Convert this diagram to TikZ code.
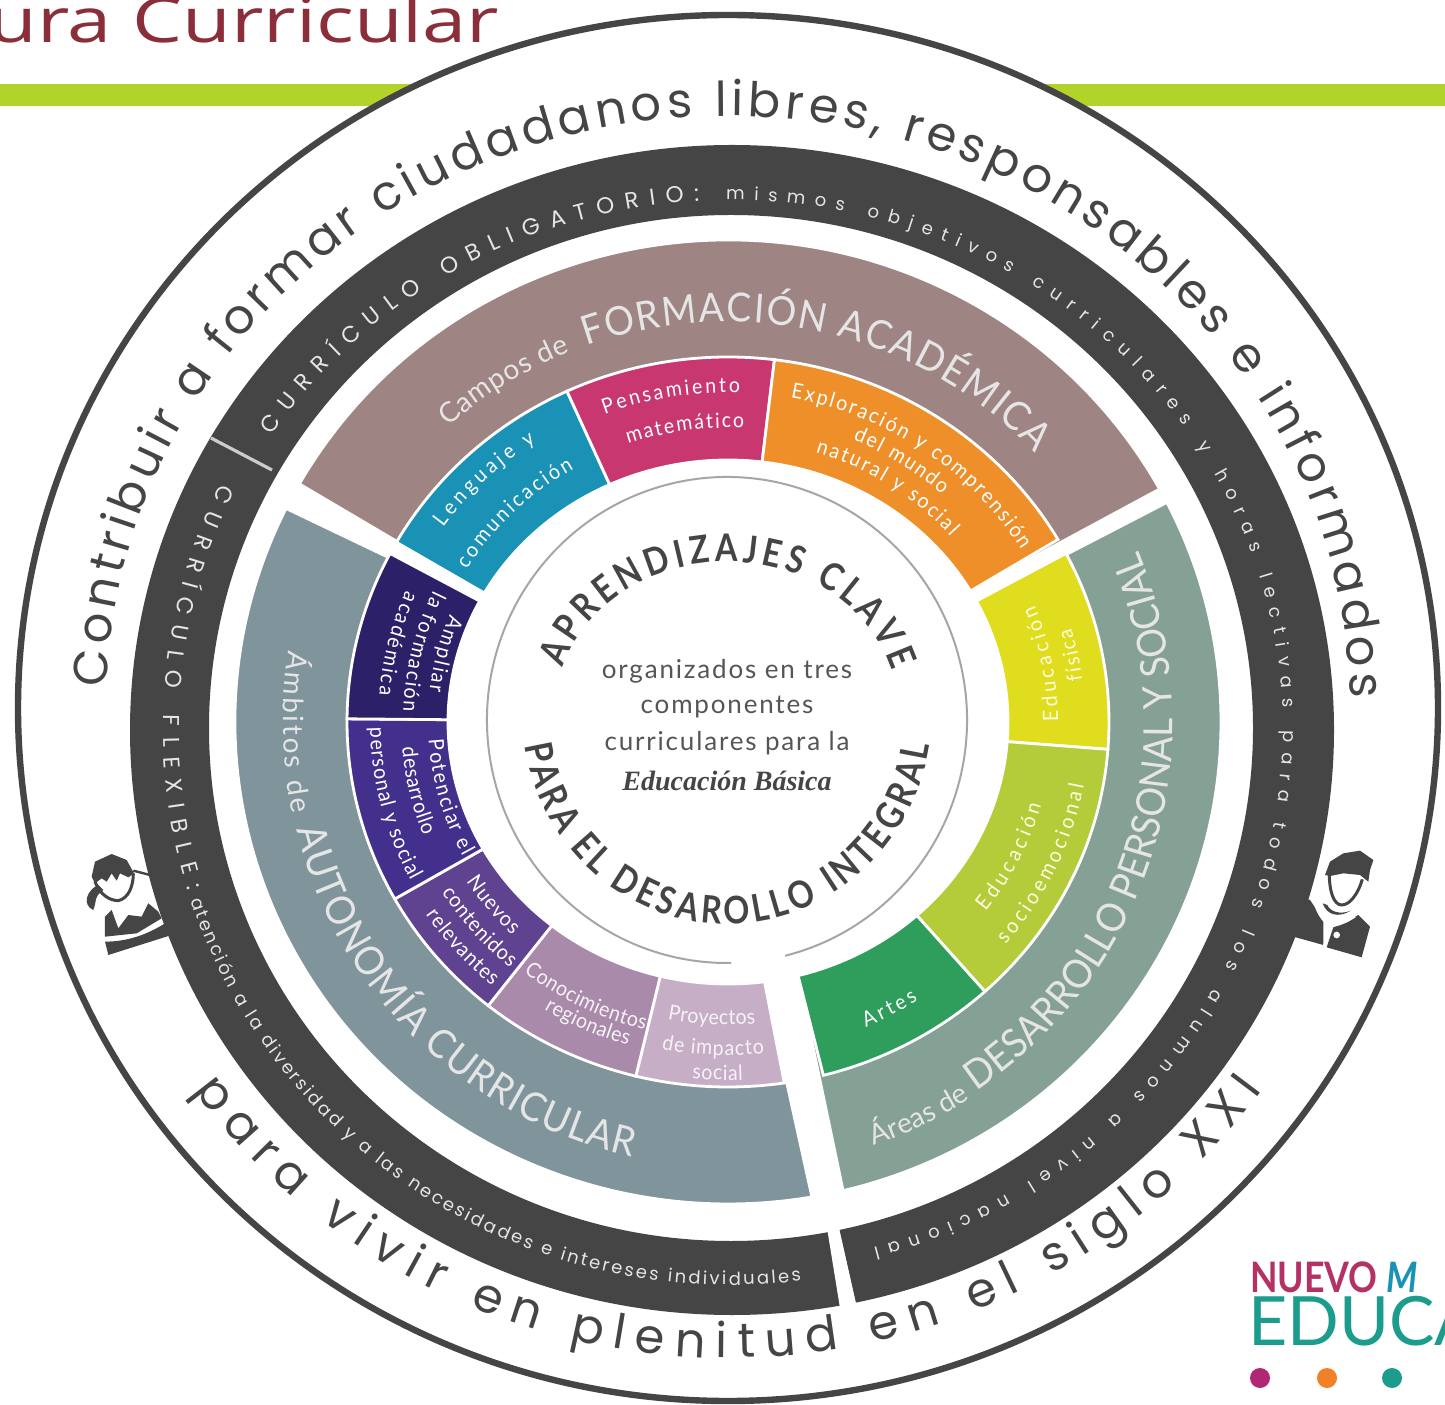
\documentclass[tikz,border=0pt]{standalone}
\usepackage{fontspec}
\usetikzlibrary{decorations.text}
\setmainfont{Lato}
\newfontfamily\lat{Lato}
\newfontfamily\latn[FakeStretch=0.93]{Lato}
\newfontfamily\latc[FakeStretch=0.85]{Lato}
\newfontfamily\pop{Poppins}
\newfontfamily\opn[FakeStretch=1.28]{Open Sans}
\newfontfamily\lib{Liberation Serif}
\definecolor{darkring}{HTML}{464545}
\definecolor{barg}{HTML}{B2D42A}
\definecolor{titler}{HTML}{8A2F3A}
\definecolor{brown}{HTML}{9E8583}
\definecolor{greyb}{HTML}{80949C}
\definecolor{greyg}{HTML}{85A094}
\definecolor{cblue}{HTML}{1A92B5}
\definecolor{cpink}{HTML}{C8376F}
\definecolor{corange}{HTML}{EE8F2A}
\definecolor{cyellow}{HTML}{E0DC1E}
\definecolor{clime}{HTML}{B5CC3A}
\definecolor{cgreen}{HTML}{2F9E5C}
\definecolor{clp}{HTML}{C6AEC6}
\definecolor{cmauve}{HTML}{A98AAA}
\definecolor{cpurple}{HTML}{5F4390}
\definecolor{cindigo}{HTML}{43308C}
\definecolor{cnavy}{HTML}{2C2168}
\definecolor{ctext}{HTML}{555555}
\definecolor{logoteal}{HTML}{1C9C8C}
\newcommand\arctext[8]{\path[decorate,decoration={text along path,text={|#1|#8},text align={fit to path}}] ({#2+#4*cos(#6)},{#3+#5*sin(#6)}) arc[x radius=#4,y radius=#5,start angle=#6,end angle=#7];}
\newcommand\lab[5][\wlabel]{\pgfmathsetmacro\ryy{#2/1.044}\arctext{#1}{728}{682}{#2}{\ryy}{#3}{#4}{#5}}
\newcommand\ringseg[9]{\fill[#1,draw=white,line width=1.4pt] ({728+#2*cos(#6)},{682+#3*sin(#6)}) arc[x radius=#2,y radius=#3,start angle=#6,end angle=#7] -- ({728+#4*cos(#9)},{682+#5*sin(#9)}) arc[x radius=#4,y radius=#5,start angle=#9,end angle=#8] -- cycle;}
\newcommand\colseg[3]{\ringseg{#1}{381}{365}{280}{262}{#2}{#3}{#2}{#3}}
\newcommand\bigseg[5]{\ringseg{#1}{493}{482}{280}{262}{#2}{#3}{#4}{#5}}
\def\wlabel{\latn\fontsize{10.5}{12}\selectfont\color{white}}
\def\ylabel{\latn\fontsize{10.5}{12}\selectfont\color{white!88!yellow}}
\def\plabel{\latn\fontsize{10.5}{12}\selectfont\color{white!85!clp}}
\def\outerf{\pop\fontsize{24}{30}\selectfont\color{darkring}}
\def\capsf{\pop\fontsize{11.5}{13}\selectfont\color{white!90!black}}
\def\smallf{\pop\fontsize{9}{11}\selectfont\color{white!90!black}}
\def\bigf{\latn\fontsize{20}{24}\selectfont\color{white!90!black}}
\def\midf{\lat\fontsize{14}{16}\selectfont\color{white!90!black}}
\def\centf{\latc\bfseries\fontsize{19}{22}\selectfont\color{darkring}}
\tikzset{centerline/.style={font=\lat\addfontfeature{LetterSpace=7}\fontsize{13}{15}\selectfont,text=ctext,inner sep=0pt,anchor=center}}
\begin{document}
\begin{tikzpicture}[x=0.5pt,y=0.5pt]
\useasboundingbox (0,0) rectangle (1445,1404);
\clip (0,0) rectangle (1445,1404);
\fill[white] (0,0) rectangle (1445,1404);
% title and bar
\node[font=\opn\fontsize{31}{36}\selectfont,text=titler,anchor=base west,inner sep=0pt] (title) at (-40,1361) {tura Curricular};
\fill[barg] (0,1298) rectangle (1445,1320);
% outer ellipse
\fill[white,draw=darkring,line width=3.2pt] (728,696) ellipse[x radius=710,y radius=693];
% dark ring
\fill[darkring,even odd rule] (732,674) ellipse[x radius=602,y radius=585] (731,676) ellipse[x radius=522,y radius=513];
\draw[white!80!black,line width=1.6pt] (211,966) -- (272,934);
\fill[white] (827,176) -- (838,180) -- (856,100) -- (840,96) -- (838,85) -- (852,85) -- (856,100) -- cycle;
\fill[white] (827,176) -- (838,180) -- (856,100) -- (840,96) -- cycle;
% boy icon
\begin{scope}[shift={(1280,564)},x=0.5pt/3,y=-0.5pt/3]
\fill[darkring] (90,180) -- (130,240) -- (130,315) -- (40,290) -- (0,290) -- (20,160) -- cycle;
\fill[darkring] (160,262) -- (235,225) -- (270,260) -- (245,352) -- (140,322) -- cycle;
\fill[white] (170,285) circle[radius=10];
\draw[white,line width=1.6pt] (105,185) .. controls (115,225) and (135,245) .. (150,258) .. controls (145,280) and (140,300) .. (132,322);
\draw[white,line width=1.4pt] (150,258) .. controls (175,255) and (200,245) .. (225,228);
\fill[darkring] (128,190) .. controls (140,225) and (175,235) .. (212,212) .. controls (180,225) and (150,215) .. (142,195) -- cycle;
\draw[darkring,line width=1.5pt] (148,105) .. controls (148,150) and (160,195) .. (185,195) .. controls (210,195) and (235,160) .. (247,118);
\fill[darkring] (135,105) -- (150,65) -- (190,40) -- (240,32) -- (280,60) -- (270,90) -- (265,125) -- (240,105) -- (190,100) -- (150,108) -- cycle;
\end{scope}
% girl icon
\begin{scope}[shift={(70,564)},x=0.5pt/3,y=-0.5pt/3]
\fill[darkring] (105,230) -- (125,210) -- (145,265) -- (175,225) -- (215,230) -- (235,190) -- (265,215) -- (275,235) -- (200,280) -- (105,290) -- cycle;
\fill[darkring] (105,305) .. controls (170,305) and (230,285) .. (285,250) -- (305,285) -- (115,345) -- cycle;
\draw[darkring,line width=1.5pt] (75,125) .. controls (90,165) and (120,182) .. (145,182) .. controls (175,175) and (190,140) .. (190,100);
\fill[darkring] (65,110) -- (75,65) -- (125,42) -- (170,60) -- (192,100) -- (175,112) -- (150,100) -- (140,122) -- (125,100) -- (110,125) -- (95,115) -- (75,130) -- cycle;
\fill[darkring] (85,135) .. controls (50,150) and (35,195) .. (70,210) .. controls (80,190) and (70,170) .. (100,150) -- cycle;
\draw[darkring,line width=1.2pt] (190,92) -- (240,105);
\end{scope}
% main sectors
\bigseg{brown}{150.4}{28.9}{150.5}{30}
\bigseg{greyb}{153.7}{279.8}{152.5}{277.5}
\bigseg{greyg}{27.1}{-76.5}{27.5}{-75.5}
% coloured ring
\colseg{cblue}{150.5}{115}
\colseg{cpink}{115}{83}
\colseg{corange}{83}{30}
\colseg{cyellow}{27.5}{-4.3}
\colseg{clime}{-4.3}{-47.6}
\colseg{cgreen}{-47.6}{-75.5}
\ringseg{clp}{381}{365}{280}{262}{-81.5}{-104}{-82.5}{-104}
\colseg{cmauve}{-104}{-129}
\colseg{cpurple}{-129}{-151}
\colseg{cindigo}{-151}{-180.5}
\colseg{cnavy}{-180.5}{-207.5}
% centre ring
\draw[gray!70,line width=1pt] ({727+240*cos(-76)},{684+243*sin(-76)}) arc[x radius=240,y radius=243,start angle=-76,end angle=271];
% outer texts
\arctext{\outerf}{728}{696}{622}{592}{178}{1}{Contribuir a formar ciudadanos libres, responsables e informados}
\arctext{\outerf}{728}{696}{660}{650}{216}{324}{para vivir en plenitud en el siglo XXI}
% dark ring texts
\arctext{\capsf}{731}{676}{552}{528}{146.3}{93.3}{CURRÍCULO OBLIGATORIO:}
\arctext{\smallf}{731}{676}{552}{528}{90.5}{-8}{mismos objetivos curriculares y horas lectivas para}
\arctext{\smallf}{731}{676}{552}{538}{-10}{-75}{todos los alumnos a nivel nacional}
\arctext{\capsf}{731}{676}{568}{557}{154}{197}{CURRÍCULO FLEXIBLE:}
\arctext{\smallf}{731}{676}{568}{557}{198}{277}{atención a la diversidad y a las necesidades e intereses individuales}
% sector titles
\arctext{\midf}{728}{682}{415}{400}{132.4}{112.3}{Campos de}
\arctext{\bigf}{728}{682}{415}{400}{109.9}{42.2}{FORMACIÓN ACADÉMICA}
\arctext{\midf}{728}{682}{445}{445}{170.7}{192}{Ámbitos de}
\arctext{\bigf}{728}{682}{445}{445}{194}{257.5}{AUTONOMÍA CURRICULAR}
\arctext{\midf}{728}{682}{448}{448}{-71}{-57.5}{Áreas de}
\arctext{\bigf}{728}{682}{445}{445}{-56}{22}{DESARROLLO PERSONAL Y SOCIAL}
% segment labels
\lab{350}{144.5}{123.3}{Lenguaje y}
\lab{306}{148.6}{120.2}{comunicación}
\lab{344}{111}{88}{Pensamiento}
\lab{307}{109}{87}{matemático}
\lab{344}{79.5}{31.5}{Exploración y comprensión}
\lab{320}{67}{48}{del mundo}
\lab{295}{72.7}{41}{natural y social}
\lab[\ylabel]{330}{0}{21.7}{Educación}
\lab[\ylabel]{357}{7}{16}{física}
\lab[\ylabel]{325}{-37.6}{-15.4}{Educación}
\lab[\ylabel]{362}{-39.9}{-10.5}{socioemocional}
\lab{347}{-66.6}{-56.8}{Artes}
\lab{300}{158}{174}{Ampliar}
\lab{325}{155}{178}{la formación}
\lab{350}{157}{175.4}{académica}
\lab{300}{183.5}{207.9}{Potenciar el}
\lab{327}{184.7}{201.3}{desarrollo}
\lab{358}{181}{207.6}{personal y social}
\lab{310}{212.4}{225.9}{Nuevos}
\lab{337}{211.8}{229.7}{contenidos}
\lab{363}{213.6}{229.5}{relevantes}
\lab[\plabel]{332}{232}{255.5}{Conocimientos}
\lab[\plabel]{352}{238.5}{253.5}{regionales}
\lab[\plabel]{316}{259}{275}{Proyectos}
\lab[\plabel]{348}{259}{276}{de impacto}
\lab[\plabel]{374}{264.5}{272.3}{social}
% centre texts
\arctext{\centf}{727}{692}{172}{150}{163}{16}{APRENDIZAJES CLAVE}
\arctext{\centf}{727}{692}{205}{212}{189}{351}{PARA EL DESAROLLO INTEGRAL}
\node[centerline] (c1) at (727,733) {organizados en tres};
\node[centerline] (c2) at (727,697) {componentes};
\node[centerline] (c3) at (727,661) {curriculares para la};
\node[centerline,font=\lib\bfseries\itshape\fontsize{14}{16}\selectfont,text=darkring] (c4) at (727,623) {Educación Básica};
% logo
\node[font=\latc\bfseries\fontsize{21}{24}\selectfont,text=cpink!90!black,anchor=base west,inner sep=0pt] (nuevo) at (1250,112) {NUEVO \textcolor{cblue}{\itshape M}};
\node[font=\lat\fontsize{34}{38}\selectfont,text=logoteal,anchor=base west,inner sep=0pt] (educa) at (1248,59) {EDUCA};
\fill[cpink!70!violet] (1260,26) circle[radius=10];
\fill[corange!90!red] (1327,26) circle[radius=10];
\fill[logoteal] (1392,26) circle[radius=10];
\end{tikzpicture}
\end{document}
